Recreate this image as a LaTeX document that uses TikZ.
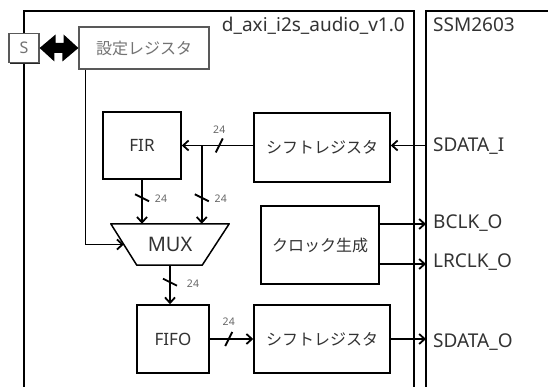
\documentclass[tikz,border=0pt]{standalone}
\usepackage{fontspec}
\setmainfont{Noto Sans}
\newfontfamily\jpf{Noto Sans CJK JP}
\usetikzlibrary{arrows.meta,calc,shadows}
\newcommand\fsSig{\fontsize{19pt}{22pt}\selectfont}
\newcommand\fsBox{\fontsize{17pt}{20pt}\selectfont}
\newcommand\fsMux{\fontsize{20pt}{23pt}\selectfont}
\newcommand\fsJp{\jpf\fontsize{16pt}{19pt}\selectfont}
\newcommand\fsW{\fontsize{10.5pt}{12pt}\selectfont}
\begin{document}
\begin{tikzpicture}[x=1pt,y=-1pt,
  frame/.style={draw=black,line width=1.5pt},
  box/.style={draw=black,line width=1.5pt,fill=white,inner sep=0pt,text=black!80},
  shbox/.style={draw=black!65,line width=1.2pt,fill=white,inner sep=0pt,text=black!55,
    drop shadow={shadow xshift=1.4pt,shadow yshift=-1.4pt,opacity=1,fill=black!85}},
  wire/.style={draw=black,line width=1.8pt,-{Straight Barb[length=5.5pt,width=10pt]}},
  tick/.style={draw=black,line width=1.8pt},
  wlab/.style={font=\fsW,text=black!60,inner sep=0pt},
  sig/.style={font=\fsSig,text=black!80,anchor=west,inner xsep=7pt,inner ysep=0pt},
  ttl/.style={font=\fsSig,text=black!80,inner sep=0pt}
]
\useasboundingbox (0,0) rectangle (548,387);
\clip (0,0) rectangle (548,387);

% outer frames
\draw[frame] (24,400) -- (24,11) -- (414,11) -- (414,400);
\draw[frame] (426,400) -- (426,11) -- (560,11);
\node[ttl,anchor=base east] (taxi) at (405,32) {d\_axi\_i2s\_audio\_v1.0};
\node[ttl,anchor=base west] (tssm) at (433,32) {SSM2603};

% S and settings register
\node[shbox,minimum width=30pt,minimum height=29pt,font=\fontsize{16pt}{19pt}\selectfont] (S) at (24,48) {S};
\node[shbox,minimum width=130pt,minimum height=42pt,font=\fsJp] (reg) at (144,48) {設定レジスタ};
\fill (S.east) -- ++(16,-13.5) -- ++(0,8.5) -- ++(8,0) -- ++(0,-8.5) -- (reg.west)
  -- ++(-16,13.5) -- ++(0,-8.5) -- ++(-8,0) -- ++(0,8.5) -- cycle;

% blocks
\node[box,minimum width=78pt,minimum height=67pt,font=\fsBox] (fir) at (142,145.5) {FIR};
\node[box,minimum width=136pt,minimum height=69pt,font=\fsJp] (sr1) at (322,147.5) {シフトレジスタ};
\node[box,minimum width=118pt,minimum height=78pt,font=\fsJp] (clk) at (320,245) {クロック生成};
\node[box,minimum width=72pt,minimum height=68pt,font=\fsBox] (fifo) at (173,339) {FIFO};
\node[box,minimum width=136pt,minimum height=68pt,font=\fsJp] (sr2) at (322,339) {シフトレジスタ};

% MUX
\node[inner sep=0pt,minimum width=118pt,minimum height=41pt,font=\fsMux,text=black!80] (mux) at (170,244.5) {MUX};
\draw[line width=1.5pt,line join=round] (mux.north west) -- (mux.north east)
  -- ($(mux.south east)+(-27,0)$) -- ($(mux.south west)+(26,0)$) -- cycle;
\coordinate (muxL) at ($(mux.west)+(13,0)$);

% signal labels
\node[sig] (sdi) at (426,146) {SDATA\_I};
\node[sig] (bclk) at (426,223) {BCLK\_O};
\node[sig] (lrclk) at (426,262) {LRCLK\_O};
\node[sig] (sdo) at (426,342) {SDATA\_O};

% connectors
\draw[wire] (sdi.west |- fir.east) -- (sr1.east |- fir.east);
\draw[wire] (sr1.west |- fir.east) -- (fir.east);
\coordinate (br) at ($(fir.east)+(20,0)$);
\draw[wire] (br) -- (br |- mux.north);
\draw[wire] (fir.south) -- (fir.south |- mux.north);
\draw[wire] ($(reg.south west)+(7,0)$) |- (muxL);
\draw[wire] (mux.south) -- (mux.south |- fifo.north);
\draw[wire] (fifo.east) -- (sr2.west);
\draw[wire] (sr2.east) -- (sr2.east -| sdo.west);
\draw[wire] (clk.east |- 0,224) -- (426,224);
\draw[wire] (clk.east |- 0,264) -- (426,264);

% bus width ticks
\draw[tick] ($(sr1.west |- fir.east)+(-34,0)$) +(-3.5,7) -- +(3.5,-7);
\node[wlab] (w1) at ($(sr1.west |- fir.east)+(-34,-16)$) {24};
\draw[tick] ($(fir.south)+(0,18)$) +(-7,-3.5) -- +(7,3.5);
\node[wlab] (w2) at ($(fir.south)+(19,19)$) {24};
\draw[tick] ($(br |- fir.south)+(0,18)$) +(-7,-3.5) -- +(7,3.5);
\node[wlab] (w3) at ($(br |- fir.south)+(19,19)$) {24};
\draw[tick] ($(mux.south)+(0,17)$) +(-7,-3.5) -- +(7,3.5);
\node[wlab] (w4) at ($(mux.south)+(23,18)$) {24};
\draw[tick] ($(fifo.east)+(19,0)$) +(-3.5,7) -- +(3.5,-7);
\node[wlab] (w5) at ($(fifo.east)+(19,-17)$) {24};
\end{tikzpicture}
\end{document}
